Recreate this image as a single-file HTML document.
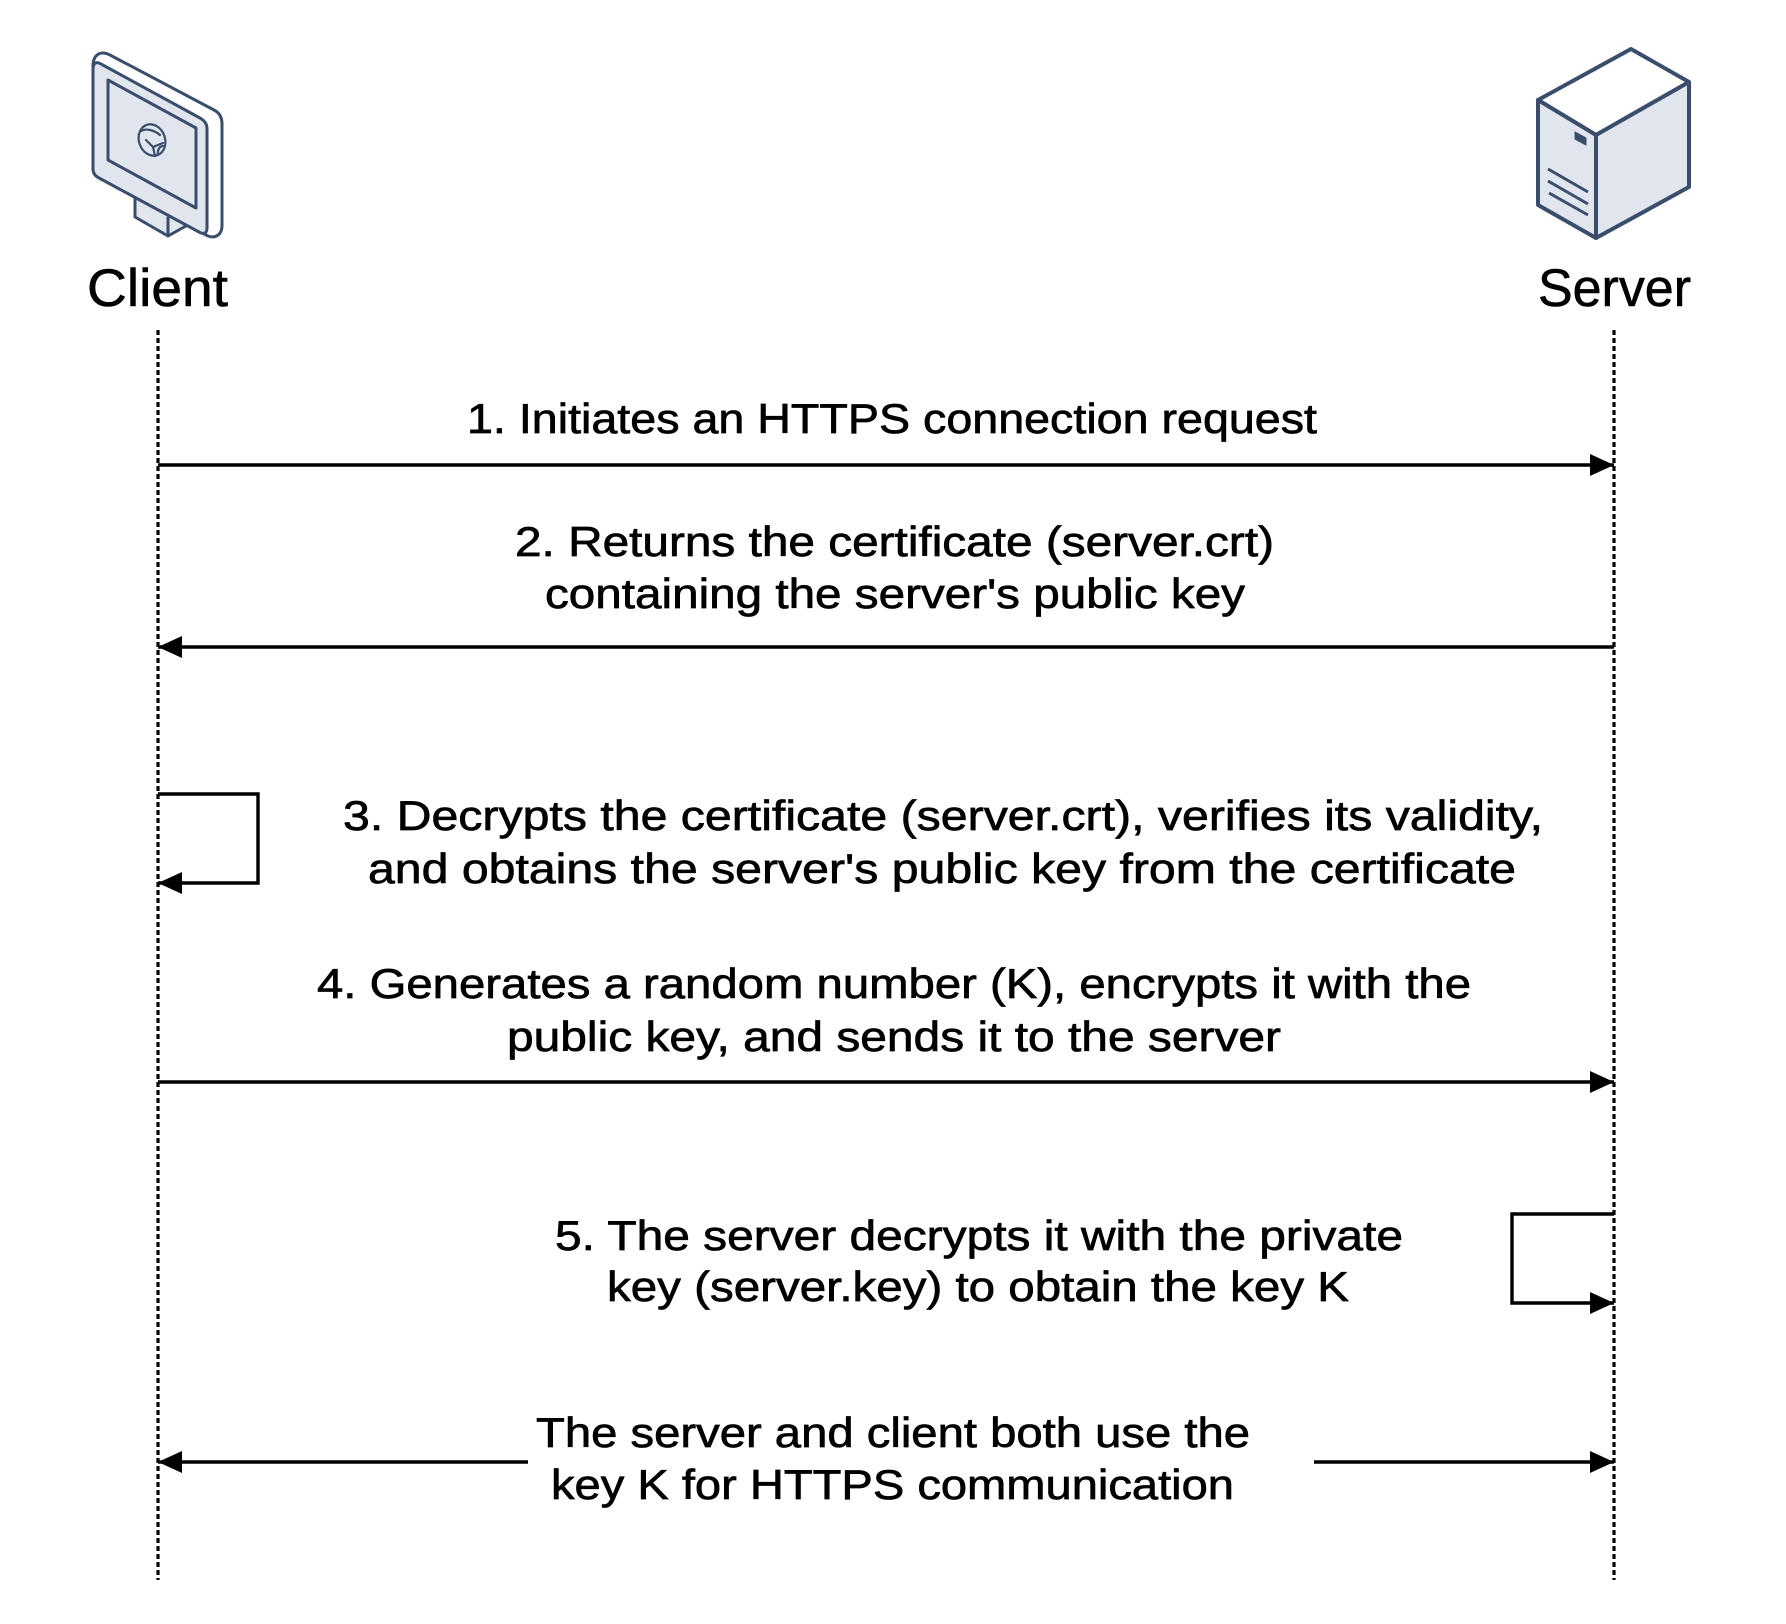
<!DOCTYPE html>
<html>
<head>
<meta charset="utf-8">
<style>
html,body{margin:0;padding:0;background:#fff;}
body{width:1786px;height:1624px;overflow:hidden;}
svg{display:block;}
text{font-family:"Liberation Sans",sans-serif;fill:#000;}
</style>
</head>
<body>
<svg width="1786" height="1624" viewBox="0 0 1786 1624" xmlns="http://www.w3.org/2000/svg">
<defs>
<marker id="ar" markerWidth="24" markerHeight="22" refX="24" refY="11" orient="auto" markerUnits="userSpaceOnUse">
<path d="M0,0 L24,11 L0,22 Z" fill="#000"/>
</marker>
</defs>

<!-- Client monitor icon -->
<g stroke="#3a4e6c" stroke-width="3" stroke-linejoin="round" stroke-linecap="round">
  <!-- stand -->
  <path d="M135,190 L135,217 L168,236 L186,226 L186,200 Z" fill="#e1e5ee"/>
  <path d="M168,218 L168,236" fill="none"/>
  <!-- outer silhouette (depth band) -->
  <path d="M93,66 C93,55 100,50 110,55 L214,110 C220,113 222,118 222,124 L222,226 C222,234 216,239 208,236 L100,178 C95,175 93,172 93,168 Z" fill="#ffffff"/>
  <!-- front bezel -->
  <path d="M93,70 C93,63 96,61 101,64 L200,118 C205,121 207,124 207,129 L207,228 C207,233 204,235 199,232 L99,178 C95,176 93,173 93,169 Z" fill="#e1e5ee"/>
  <!-- screen -->
  <path d="M108,80 L196,128 L196,208 L108,160 Z" fill="#e1e5ee"/>
  <!-- globe -->
  <ellipse cx="152" cy="140" rx="13" ry="16" transform="rotate(-20 152 140)" fill="#e1e5ee" stroke-width="2.2"/>
  <path d="M141,131 C146,128 154,130 160,135 M146,140 L153,147 L163,143 M153,147 L155,156 M158,155 C157,150 160,146 163,146" fill="none" stroke-width="2.2"/>
</g>

<!-- Server icon -->
<g stroke="#3a4e6c" stroke-width="4" stroke-linejoin="round">
  <polygon points="1538,100 1631,49 1689,82 1596,135" fill="#ffffff"/>
  <polygon points="1538,100 1596,135 1596,238 1538,205" fill="#e1e5ee"/>
  <polygon points="1596,135 1689,82 1689,187 1596,238" fill="#e1e5ee"/>
  <polygon points="1575,132 1586,138 1586,145 1575,139" fill="#3a4e6c" stroke-width="1"/>
  <path d="M1548,169 L1588,192 M1548,181 L1588,204 M1549,193 L1588,215" fill="none" stroke-width="3"/>
</g>

<!-- Actor labels -->
<g stroke="#000" stroke-width="0.6">
<text x="87" y="306" font-size="53" textLength="141" lengthAdjust="spacingAndGlyphs">Client</text>
<text x="1538" y="306" font-size="53" textLength="153" lengthAdjust="spacingAndGlyphs">Server</text>
</g>

<!-- Lifelines -->
<line x1="158" y1="330" x2="158" y2="1580" stroke="#000" stroke-width="3.2" stroke-dasharray="5 3"/>
<line x1="1614" y1="330" x2="1614" y2="1580" stroke="#000" stroke-width="3.2" stroke-dasharray="5 3"/>

<!-- Messages -->
<g stroke="#000" stroke-width="3.4" fill="none">
  <line x1="158" y1="465" x2="1614" y2="465" marker-end="url(#ar)"/>
  <line x1="1614" y1="647" x2="158" y2="647" marker-end="url(#ar)"/>
  <path d="M158,794 H258 V883 H158" marker-end="url(#ar)"/>
  <line x1="158" y1="1082" x2="1614" y2="1082" marker-end="url(#ar)"/>
  <path d="M1614,1214 H1512 V1303 H1614" marker-end="url(#ar)"/>
  <line x1="528" y1="1462" x2="158" y2="1462" marker-end="url(#ar)"/>
  <line x1="1314" y1="1462" x2="1614" y2="1462" marker-end="url(#ar)"/>
</g>

<!-- Labels -->
<g font-size="42" stroke="#000" stroke-width="0.7">
  <text x="467" y="433" textLength="850" lengthAdjust="spacingAndGlyphs">1. Initiates an HTTPS connection request</text>
  <text x="515" y="556" textLength="759" lengthAdjust="spacingAndGlyphs">2. Returns the certificate (server.crt)</text>
  <text x="545" y="608" textLength="700" lengthAdjust="spacingAndGlyphs">containing the server's public key</text>
  <text x="343" y="830" textLength="1200" lengthAdjust="spacingAndGlyphs">3. Decrypts the certificate (server.crt), verifies its validity,</text>
  <text x="368" y="883" textLength="1148" lengthAdjust="spacingAndGlyphs">and obtains the server's public key from the certificate</text>
  <text x="317" y="998" textLength="1154" lengthAdjust="spacingAndGlyphs">4. Generates a random number (K), encrypts it with the</text>
  <text x="507" y="1051" textLength="774" lengthAdjust="spacingAndGlyphs">public key, and sends it to the server</text>
  <text x="555" y="1250" textLength="848" lengthAdjust="spacingAndGlyphs">5. The server decrypts it with the private</text>
  <text x="607" y="1301" textLength="742" lengthAdjust="spacingAndGlyphs">key (server.key) to obtain the key K</text>
  <text x="536" y="1447" textLength="714" lengthAdjust="spacingAndGlyphs">The server and client both use the</text>
  <text x="551" y="1499" textLength="683" lengthAdjust="spacingAndGlyphs">key K for HTTPS communication</text>
</g>
</svg>
</body>
</html>
